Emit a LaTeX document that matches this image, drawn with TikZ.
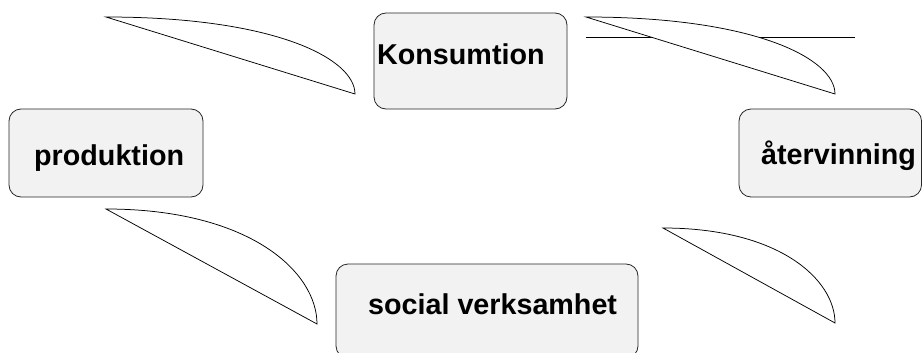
\documentclass[tikz,border=0pt]{standalone}
\usepackage{fontspec}
\setmainfont{Liberation Sans}
\begin{document}
\begin{tikzpicture}[x=1pt,y=-1pt,
  box/.style={draw=black!85, line width=0.8pt, fill=black!5, rounded corners=12pt},
  lbl/.style={font=\bfseries\fontsize{28.7}{34}\selectfont, inner sep=0pt, anchor=base west},
  leaf/.style={draw=black, line width=0.75pt, fill=white, line join=miter}]
\useasboundingbox (0,0) rectangle (923,353);
\clip (0,0) rectangle (923,353);
% boxes
\draw[box] (374,13) rectangle (567,109);
\draw[box] (9,109) rectangle (203,197);
\draw[box] (739,109) rectangle (921.5,197);
\draw[box] (336,264) rectangle (638,358);
% labels
\node[lbl] (kons) at (377,65) {Konsumtion};
\node[lbl] (prod) at (34,165) {produktion};
\node[lbl] (ater) at (761,164) {återvinning};
\node[lbl] (soc) at (368,314) {social verksamhet};
% horizontal line
\coordinate (h1) at (586,37);
\coordinate (h2) at (855,37);
\draw[line width=0.8pt] (h1) -- (h2);
% leaf shapes
\draw[leaf] (106,17) .. controls (276,17) and (355,59) .. (355,94) -- cycle;
\draw[leaf] (586,17) .. controls (756,17) and (835,59) .. (835,94) -- cycle;
\draw[leaf] (106,209) .. controls (250,209) and (317,272) .. (317,324) -- cycle;
\draw[leaf] (663,228) .. controls (780,228) and (835,280) .. (835,323) -- cycle;
\end{tikzpicture}
\end{document}
